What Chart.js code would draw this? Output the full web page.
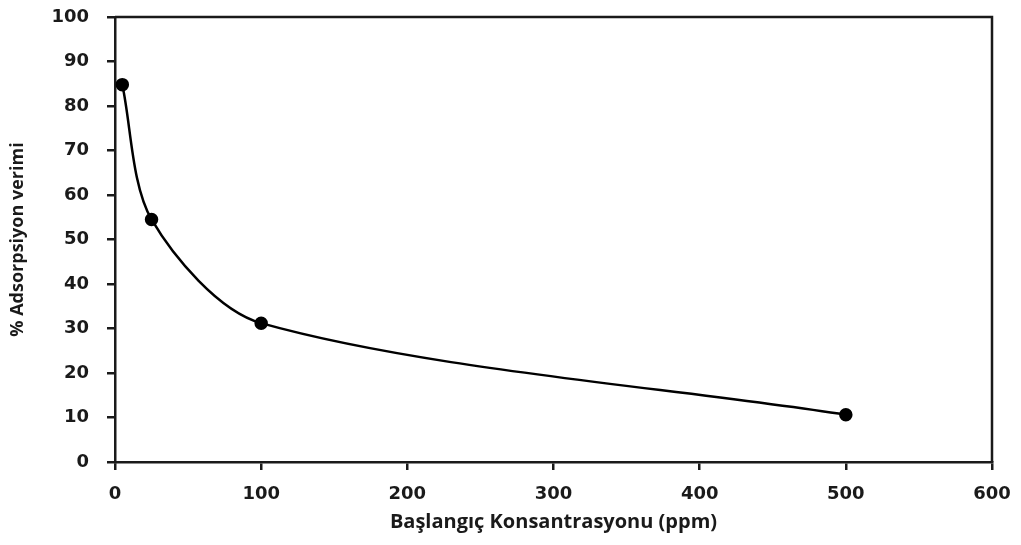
<!DOCTYPE html>
<html>
<head>
<meta charset="utf-8">
<script src="https://cdn.jsdelivr.net/npm/chart.js@4.4.1/dist/chart.umd.min.js"></script>
<style>
  html, body { margin: 0; padding: 0; background: #fff; }
  #wrap { width: 1021px; height: 545px; }
</style>
</head>
<body>
<div id="wrap"><canvas id="myChart" width="1021" height="545"></canvas></div>
<script>
// initial concentration (ppm) vs adsorption efficiency (%)
const concentrations = [5, 25, 100, 500];
const efficiency = [84.8, 54.5, 31.2, 10.6];
const xTicks = [0, 100, 200, 300, 400, 500, 600];
const yTicks = [0, 10, 20, 30, 40, 50, 60, 70, 80, 90, 100];

const xTitle = 'Başlangıç Konsantrasyonu (ppm)';
const yTitle = '% Adsorpsiyon verimi';

window.addEventListener('DOMContentLoaded', () => {
    setChart();
});

// draws the top and right edges of the plot frame
const frameBox = {
    id: 'frameBox',
    afterDraw(chart) {
        const { ctx, chartArea } = chart;
        ctx.save();
        ctx.strokeStyle = '#1a1a1a';
        ctx.lineWidth = 2.5;
        ctx.beginPath();
        ctx.moveTo(chartArea.left, chartArea.top);
        ctx.lineTo(chartArea.right, chartArea.top);
        ctx.lineTo(chartArea.right, chartArea.bottom);
        ctx.stroke();
        ctx.restore();
    }
};

function setChart() {
    const points = concentrations.map((x, i) => ({ x: x, y: efficiency[i] }));
    const tickFont = { family: 'DejaVu Sans', size: 18, weight: 'bold' };
    const xTitleFont = { family: 'Open Sans', size: 20, weight: 'bold' };
    const yTitleFont = { family: 'Open Sans', size: 18, weight: 'bold' };

    const ctx = document.getElementById('myChart').getContext('2d');
    new Chart(ctx, {
        type: 'scatter',
        data: {
            datasets: [{
                data: points,
                showLine: true,
                borderColor: '#000',
                borderWidth: 2.5,
                backgroundColor: '#000',
                pointRadius: 5.5,
                pointHoverRadius: 5.5,
                tension: 0.3
            }]
        },
        options: {
            responsive: false,
            animation: false,
            layout: { padding: { top: 17, right: 29, left: 0, bottom: 0 } },
            plugins: {
                legend: { display: false },
                tooltip: { enabled: false }
            },
            scales: {
                x: {
                    type: 'linear',
                    min: 0,
                    max: 600,
                    afterBuildTicks: axis => { axis.ticks = xTicks.map(v => ({ value: v })); },
                    afterFit: axis => {
                        axis.height = 83;
                        axis.paddingLeft = 0;
                        axis.paddingRight = 0;
                    },
                    border: { color: '#1a1a1a', width: 2.5 },
                    grid: { drawOnChartArea: false, tickLength: 8, color: '#1a1a1a', lineWidth: 2.5 },
                    ticks: { color: '#1a1a1a', font: tickFont, padding: 14 },
                    title: { display: true, text: xTitle, color: '#1a1a1a', font: xTitleFont, padding: { top: 4, bottom: 11 } }
                },
                y: {
                    min: 0,
                    max: 100,
                    afterBuildTicks: axis => { axis.ticks = yTicks.map(v => ({ value: v })); },
                    afterFit: axis => {
                        axis.width = 115;
                        axis.paddingTop = 0;
                        axis.paddingBottom = 0;
                    },
                    border: { color: '#1a1a1a', width: 2.5 },
                    grid: { drawOnChartArea: false, tickLength: 8, color: '#1a1a1a', lineWidth: 2.5 },
                    ticks: { color: '#1a1a1a', font: tickFont, padding: 18 },
                    title: { display: true, text: yTitle, color: '#1a1a1a', font: yTitleFont, padding: { top: 7, bottom: 0 } }
                }
            }
        },
        plugins: [frameBox]
    });
}
</script>
</body>
</html>
